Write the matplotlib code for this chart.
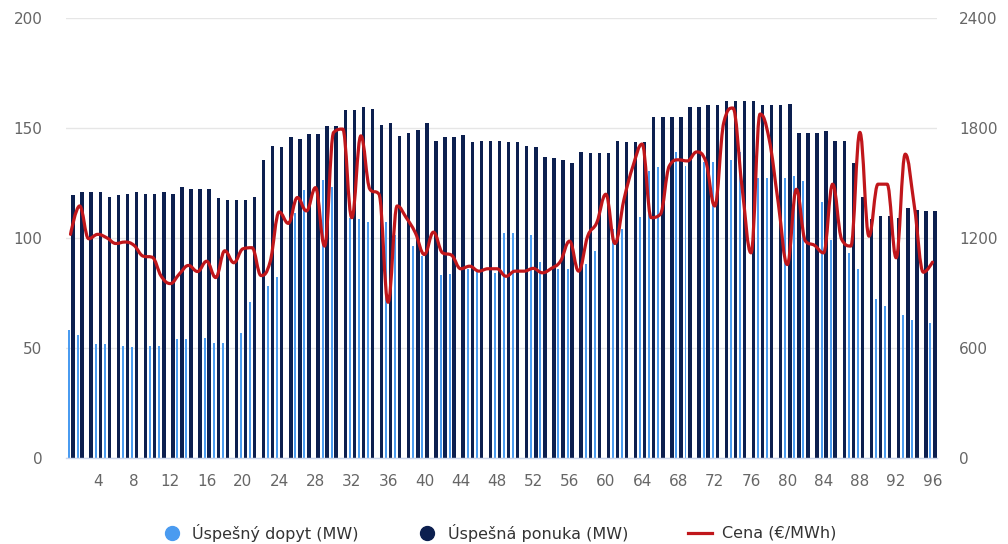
import matplotlib
matplotlib.use("Agg")
import matplotlib.pyplot as plt
import numpy as np
from matplotlib.lines import Line2D
from matplotlib.patches import PathPatch
from matplotlib.path import Path

# 96 quarter-hour periods
periods = list(range(1, 97))

# light blue bars; None where the bar is not visible in the picture
dopyt = [
    58.3, 56.0, None, 51.7, 51.7, None, 51.0, 50.2, None, 51.0, 51.0, None,
    54.0, 54.0, None, 54.6, 52.3, 52.3, None, 56.8, 70.8, None, 78.1, 82.3,
    None, 111.5, 121.7, None, 126.3, 123.2, None, 109.0, 108.5, 107.3, None, 107.3,
    101.3, None, 96.3, 92.0, None, 83.2, 83.8, None, 85.7, 85.0, None, 84.0,
    102.1, 102.1, None, 101.3, 89.0, None, 86.0, 86.0, None, 88.0, 94.0, None,
    104.0, 104.2, None, 109.4, 130.5, 132.1, None, 139.2, 132.8, None, 134.4, 134.4,
    None, 135.6, 139.2, None, 127.5, 127.5, None, 127.5, 128.3, 126.0, None, 116.6,
    99.0, None, 93.3, 86.0, None, 72.3, 69.2, None, 64.8, 62.8, None, 61.1,
]

ponuka = [
    119.4, 121.0, 121.0, 121.0, 118.7, 119.4, 120.2, 121.0, 120.2, 120.2, 121.0, 120.2,
    123.2, 122.5, 122.5, 122.5, 118.1, 117.3, 117.3, 117.3, 118.7, 135.6, 142.0, 141.5,
    145.8, 145.0, 147.3, 147.3, 150.8, 150.8, 158.1, 158.1, 159.6, 158.8, 151.5, 152.3,
    146.5, 147.9, 149.3, 152.3, 144.2, 145.8, 145.8, 147.1, 143.5, 144.2, 144.2, 144.2,
    143.5, 143.5, 142.0, 141.4, 136.9, 136.2, 135.6, 134.0, 139.2, 138.5, 138.5, 138.5,
    144.2, 143.5, 143.5, 143.5, 155.2, 155.2, 155.2, 155.2, 159.6, 159.6, 160.4, 160.4,
    162.5, 162.5, 162.5, 162.5, 160.4, 160.4, 160.4, 161.1, 147.9, 147.9, 147.9, 148.7,
    144.2, 144.2, 134.2, 118.8, 108.5, 110.0, 110.0, 109.3, 113.7, 112.9, 112.1, 112.1,
]

cena = [
    1220, 1375, 1196, 1220, 1201, 1170, 1178, 1160, 1101, 1095, 991, 951,
    1004, 1050, 1017, 1073, 984, 1130, 1065, 1141, 1147, 995, 1070, 1342,
    1280, 1421, 1348, 1475, 1156, 1777, 1795, 1311, 1758, 1466, 1439, 849,
    1375, 1311, 1229, 1110, 1232, 1119, 1106, 1032, 1046, 1019, 1032, 1032,
    991, 1019, 1019, 1034, 1010, 1034, 1073, 1183, 1019, 1210, 1284, 1439,
    1170, 1411, 1594, 1713, 1311, 1329, 1594, 1627, 1621, 1670, 1621, 1375,
    1831, 1910, 1484, 1119, 1877, 1740, 1393, 1055, 1466, 1183, 1160, 1119,
    1494, 1192, 1156, 1777, 1210, 1494, 1494, 1092, 1658, 1375, 1013, 1068,
]

x_labels = [str(p) for p in periods if p % 4 == 0]
legend_labels = ["Úspešný dopyt (MW)", "Úspešná ponuka (MW)", "Cena (€/MWh)"]

C_DOPYT = "#4a9bf0"
C_PONUKA = "#0c1f4f"
C_CENA = "#c0161b"
C_TEXT = "#666666"

W, H = 1008, 544


def spline_path(xs, ys, smoothing=1.5):
    # bezier control points, same idea as a highcharts spline series
    n = len(xs)
    left = [(x, y) for x, y in zip(xs, ys)]
    right = [(x, y) for x, y in zip(xs, ys)]
    denom = smoothing + 1
    for i in range(1, n - 1):
        x, y = xs[i], ys[i]
        lx, ly = xs[i - 1], ys[i - 1]
        nx, ny = xs[i + 1], ys[i + 1]
        lcx = (smoothing * x + lx) / denom
        lcy = (smoothing * y + ly) / denom
        rcx = (smoothing * x + nx) / denom
        rcy = (smoothing * y + ny) / denom
        if rcx != lcx:
            corr = (rcy - lcy) * (rcx - x) / (rcx - lcx) + y - rcy
            lcy += corr
            rcy += corr
        if lcy > ly and lcy > y:
            lcy = max(ly, y)
            rcy = 2 * y - lcy
        elif lcy < ly and lcy < y:
            lcy = min(ly, y)
            rcy = 2 * y - lcy
        if rcy > ny and rcy > y:
            rcy = max(ny, y)
            lcy = 2 * y - rcy
        elif rcy < ny and rcy < y:
            rcy = min(ny, y)
            lcy = 2 * y - rcy
        left[i] = (lcx, lcy)
        right[i] = (rcx, rcy)
    verts = [(xs[0], ys[0])]
    codes = [Path.MOVETO]
    for i in range(1, n):
        verts += [right[i - 1], left[i], (xs[i], ys[i])]
        codes += [Path.CURVE4] * 3
    return Path(verts, codes)


fig = plt.figure(figsize=(W / 100, H / 100), dpi=100)
ax = fig.add_axes([66 / W, 86.3 / H, 871 / W, 439.4 / H])
ax2 = ax.twinx()

x = np.array(periods, dtype=float)
d_vals = np.array([np.nan if v is None else v for v in dopyt])
ax.bar(x - 0.22, d_vals, width=0.22, color=C_DOPYT, linewidth=0, zorder=2)
ax.bar(x + 0.28, ponuka, width=0.38, color=C_PONUKA, linewidth=0, zorder=2)

ax.set_xlim(0.5, 96.5)
ax.set_ylim(0, 200)
ax.set_yticks([0, 50, 100, 150, 200])
ax.set_xticks([p for p in periods if p % 4 == 0])
ax.set_xticklabels(x_labels)
ax.set_axisbelow(True)
ax.grid(axis="y", color="#e6e6e6", linewidth=1)
ax.grid(axis="x", visible=False)

ax2.set_ylim(0, 2400)
ax2.set_yticks([0, 600, 1200, 1800, 2400])
ax2.add_patch(PathPatch(spline_path(x, cena), facecolor="none", edgecolor=C_CENA,
                        linewidth=2.3, capstyle="round", joinstyle="round", zorder=3))

for a in (ax, ax2):
    for side in ("top", "left", "right", "bottom"):
        a.spines[side].set_visible(False)
ax.spines["bottom"].set_visible(True)
ax.spines["bottom"].set_color("#ccd6eb")
ax.spines["bottom"].set_linewidth(1)

ax.tick_params(axis="y", length=0, pad=17, labelsize=11, labelcolor=C_TEXT)
ax.tick_params(axis="x", length=0, pad=12, labelsize=11, labelcolor=C_TEXT)
ax2.tick_params(axis="y", length=0, pad=16, labelsize=11, labelcolor=C_TEXT)

# legend row, placed by hand so the items sit where the original has them
ly = 1 - 533 / H
fig.add_artist(Line2D([172 / W], [ly], marker="o", markersize=10, linestyle="none",
                      color=C_DOPYT, transform=fig.transFigure))
fig.add_artist(Line2D([427 / W], [ly], marker="o", markersize=10, linestyle="none",
                      color=C_PONUKA, transform=fig.transFigure))
fig.add_artist(Line2D([688 / W, 712 / W], [ly, ly], color=C_CENA, linewidth=2.3,
                      transform=fig.transFigure))
for tx, label in zip([192, 448, 722], legend_labels):
    fig.text(tx / W, ly, label, ha="left", va="center", fontsize=11.5,
             color="#333333")

fig.savefig("out.png", dpi=100)
